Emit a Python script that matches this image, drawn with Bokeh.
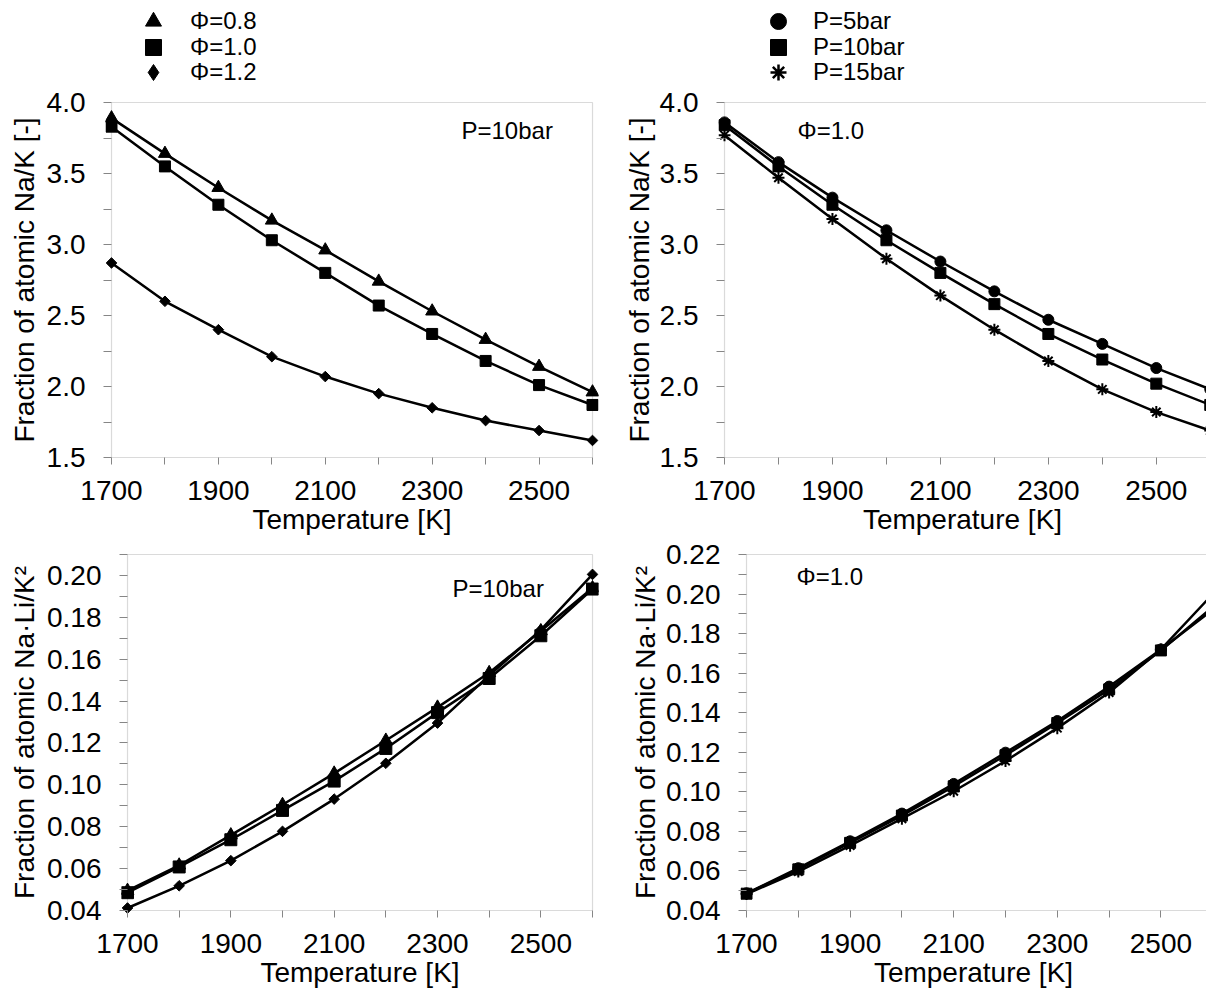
import math
from bokeh.plotting import figure
from bokeh.models import (FixedTicker, PrintfTickFormatter, Legend, LegendItem,
                          Label, Range1d, BoxAnnotation)
from bokeh.layouts import column, row
from bokeh.embed import file_html
from bokeh.resources import INLINE

FONT = "Liberation Sans"
GRAY = "#868686"

# ---------------- data ----------------
temperature = [1700, 1800, 1900, 2000, 2100, 2200, 2300, 2400, 2500, 2600]

# Fraction of atomic Na/K, P=10bar
nak_phi08 = [3.89, 3.64, 3.40, 3.17, 2.96, 2.74, 2.53, 2.33, 2.14, 1.96]
nak_phi10 = [3.83, 3.55, 3.28, 3.03, 2.80, 2.57, 2.37, 2.18, 2.01, 1.87]
nak_phi12 = [2.87, 2.60, 2.40, 2.21, 2.07, 1.95, 1.85, 1.76, 1.69, 1.62]

# Fraction of atomic Na/K, Phi=1.0
nak_p5 = [3.86, 3.58, 3.33, 3.10, 2.88, 2.67, 2.47, 2.30, 2.13, 1.98]
nak_p10 = [3.84, 3.55, 3.28, 3.03, 2.80, 2.58, 2.37, 2.19, 2.02, 1.87]
nak_p15 = [3.77, 3.47, 3.18, 2.90, 2.64, 2.40, 2.18, 1.98, 1.82, 1.69]

# Fraction of atomic Na*Li/K^2, P=10bar
nali_phi08 = [0.0495, 0.0616, 0.0760, 0.0905, 0.1055, 0.1212, 0.1370, 0.1535, 0.1735, 0.1940]
nali_phi10 = [0.0485, 0.0608, 0.0738, 0.0878, 0.1018, 0.1174, 0.1345, 0.1508, 0.1712, 0.1935]
nali_phi12 = [0.0412, 0.0518, 0.0638, 0.0778, 0.0932, 0.1103, 0.1295, 0.1522, 0.1740, 0.2005]

# Fraction of atomic Na*Li/K^2, Phi=1.0
nali_p5 = [0.0487, 0.0614, 0.0750, 0.0890, 0.1040, 0.1198, 0.1358, 0.1532, 0.1720, 0.1920]
nali_p10 = [0.0485, 0.0608, 0.0742, 0.0880, 0.1028, 0.1185, 0.1348, 0.1518, 0.1715, 0.1935]
nali_p15 = [0.0483, 0.0597, 0.0728, 0.0864, 0.1003, 0.1156, 0.1322, 0.1502, 0.1720, 0.2000]

# ticks
x_major = [1700, 1900, 2100, 2300, 2500]
x_minor = [1800, 2000, 2200, 2400, 2600]
nak_major = [1.5, 2.0, 2.5, 3.0, 3.5, 4.0]
nak_minor = [1.75, 2.25, 2.75, 3.25, 3.75]
nali_l_major = [0.04, 0.06, 0.08, 0.10, 0.12, 0.14, 0.16, 0.18, 0.20]
nali_l_minor = [0.05, 0.07, 0.09, 0.11, 0.13, 0.15, 0.17, 0.19, 0.21]
nali_r_major = [0.04, 0.06, 0.08, 0.10, 0.12, 0.14, 0.16, 0.18, 0.20, 0.22]
nali_r_minor = [0.05, 0.07, 0.09, 0.11, 0.13, 0.15, 0.17, 0.19, 0.21]

labels_phi = ["Φ=0.8", "Φ=1.0", "Φ=1.2"]
legend_markers_phi = ["triangle", "square", "diamond"]
labels_p = ["P=5bar", "P=10bar", "P=15bar"]
legend_markers_p = ["circle", "square", "asterisk"]

ylabel_nak = "Fraction of atomic Na/K [-]"
ylabel_nali = "Fraction of atomic Na·Li/K²"
xlabel = "Temperature [K]"

PAD = 6  # px of room around the axis box so edge markers are not clipped


def marker_style(mk):
    """'rhombus' = square turned by 45 degrees (Excel-like diamond)."""
    if mk == "rhombus":
        return dict(marker="square", angle=math.pi / 4)
    return dict(marker=mk)


def make_fig(width, height, mb_left, mb_right, mb_top, mb_bottom,
             x0, x1, x_end, box_px_x, y0, y1, box_px_y,
             ylabel, yfmt, ymaj, ymin, box_right, ylab_standoff):
    px_per_x = box_px_x / (x_end - x0)
    padx = PAD / px_per_x
    pady = PAD * (y1 - y0) / box_px_y
    p = figure(width=width, height=height,
               x_range=Range1d(x0 - padx, x_end + (padx if x_end == x1 else 0)),
               y_range=Range1d(y0 - pady, y1 + pady),
               output_backend="svg", toolbar_location=None,
               min_border_left=mb_left, min_border_right=mb_right,
               min_border_top=mb_top, min_border_bottom=mb_bottom)
    p.outline_line_color = None
    p.grid.visible = False
    p.background_fill_color = "white"
    p.border_fill_color = "white"

    box = BoxAnnotation(left=x0, right=box_right, bottom=y0, top=y1,
                        fill_alpha=0, line_color=GRAY, line_width=1.2,
                        level="underlay")
    p.add_layout(box)

    xa = p.xaxis[0]
    xa.ticker = FixedTicker(ticks=x_major, minor_ticks=x_minor)
    xa.axis_line_color = None
    xa.major_tick_line_color = GRAY
    xa.minor_tick_line_color = GRAY
    xa.major_tick_in = PAD
    xa.major_tick_out = 1
    xa.minor_tick_in = PAD
    xa.minor_tick_out = 1
    xa.major_label_standoff = 16
    xa.major_label_text_font = FONT
    xa.major_label_text_font_size = "28px"
    xa.major_label_text_color = "black"
    xa.axis_label = xlabel
    xa.axis_label_text_font = FONT
    xa.axis_label_text_font_size = "28px"
    xa.axis_label_text_font_style = "normal"
    xa.axis_label_text_color = "black"
    xa.axis_label_standoff = 1

    ya = p.yaxis[0]
    ya.ticker = FixedTicker(ticks=ymaj, minor_ticks=ymin)
    ya.formatter = PrintfTickFormatter(format=yfmt)
    ya.axis_line_color = None
    ya.major_tick_line_color = GRAY
    ya.minor_tick_line_color = GRAY
    ya.major_tick_in = PAD
    ya.major_tick_out = 2
    ya.minor_tick_in = PAD
    ya.minor_tick_out = 2
    ya.major_label_standoff = 18
    ya.major_label_text_font = FONT
    ya.major_label_text_font_size = "28px"
    ya.major_label_text_color = "black"
    ya.axis_label = ylabel
    ya.axis_label_text_font = FONT
    ya.axis_label_text_font_size = "28px"
    ya.axis_label_text_font_style = "normal"
    ya.axis_label_text_color = "black"
    ya.axis_label_standoff = ylab_standoff
    return p


def add_series(p, y, marker, size, lw=1):
    p.line(temperature, y, line_color="black", line_width=2.5, line_join="round")
    return p.scatter(temperature, y, size=size, fill_color="black",
                     line_color="black", line_width=lw, **marker_style(marker))


LEG_H = 86


def legend_fig(width, labels, markers, series, glyph_left, standoff):
    """Strip above a panel holding only its legend (series lie outside its view)."""
    lf = figure(width=width, height=LEG_H, x_range=Range1d(0, 1), y_range=Range1d(0, 1),
                x_axis_type=None, y_axis_type=None, output_backend="svg",
                toolbar_location=None, min_border=0)
    lf.outline_line_color = None
    lf.grid.visible = False
    row_centers = [20.7, 46.5, 72.0]
    for lab, mk, ys, yc in zip(labels, markers, series, row_centers):
        r = lf.scatter(x=temperature, y=ys, fill_color="black", line_color="black",
                       line_width=2.5 if mk == "asterisk" else 1, **marker_style(mk))
        leg = Legend(items=[LegendItem(label=lab, renderers=[r])],
                     location=(glyph_left, LEG_H - (yc - 20) - 40),
                     glyph_width=40, glyph_height=40, spacing=0,
                     label_standoff=standoff, padding=0, margin=0,
                     border_line_alpha=0, background_fill_alpha=0,
                     label_text_font=FONT, label_text_font_size="24px",
                     label_text_color="black")
        lf.add_layout(leg)
    return lf


def add_note(p, text, x, y):
    p.add_layout(Label(x=x, y=y, x_units="screen", y_units="screen", text=text,
                       text_font=FONT, text_font_size="24px", text_color="black",
                       text_baseline="middle", text_align="left"))


ROW1_H = 537 - LEG_H
ROW2_H = 991 - 537

leg1 = legend_fig(600, labels_phi, legend_markers_phi,
                  [nak_phi08, nak_phi10, nak_phi12], 133, 17)
leg2 = legend_fig(606, labels_p, legend_markers_p,
                  [nak_p5, nak_p10, nak_p15], 158, 15)

# ---------------- top-left ----------------
p1 = make_fig(600, ROW1_H, 105, 2, 96 - LEG_H, ROW1_H - (96 - LEG_H) - 367,
              1700, 2600, 2600, 481, 1.5, 4.0, 355,
              ylabel_nak, "%.1f", nak_major, nak_minor, 2600, 4)
add_series(p1, nak_phi08, "triangle", 13)
add_series(p1, nak_phi10, "square", 11)
add_series(p1, nak_phi12, "rhombus", 7.5)
add_note(p1, "P=10bar", 356, 333)

# ---------------- top-right ----------------
p2 = make_fig(606, ROW1_H, 118, 0, 96 - LEG_H, ROW1_H - (96 - LEG_H) - 367,
              1700, 2600, 2593, 482, 1.5, 4.0, 355,
              ylabel_nak, "%.1f", nak_major, nak_minor, 2600, 2)
add_series(p2, nak_p5, "circle", 11)
add_series(p2, nak_p10, "square", 11)
add_series(p2, nak_p15, "asterisk", 12, lw=2)
add_note(p2, "Φ=1.0", 79, 333)

# ---------------- bottom-left ----------------
p3 = make_fig(600, ROW2_H, 121, 2, 11, ROW2_H - 11 - 368,
              1700, 2600, 2600, 465, 0.04, 0.21, 356,
              ylabel_nali, "%.2f", nali_l_major, nali_l_minor, 2600, 4)
add_series(p3, nali_phi08, "triangle", 13)
add_series(p3, nali_phi10, "square", 12)
add_series(p3, nali_phi12, "rhombus", 7.5)
add_note(p3, "P=10bar", 331, 328)

# ---------------- bottom-right ----------------
p4 = make_fig(606, ROW2_H, 140, 0, 11, ROW2_H - 11 - 368,
              1700, 2600, 2588, 460, 0.04, 0.22, 356,
              ylabel_nali, "%.2f", nali_r_major, nali_r_minor, 2600, 2)
add_series(p4, nali_p5, "circle", 11)
add_series(p4, nali_p10, "square", 11)
add_series(p4, nali_p15, "asterisk", 12, lw=2)
add_note(p4, "Φ=1.0", 56, 340)

layout = column(row(leg1, leg2), row(p1, p2), row(p3, p4))

with open("out.html", "w") as f:
    f.write(file_html(layout, INLINE))
